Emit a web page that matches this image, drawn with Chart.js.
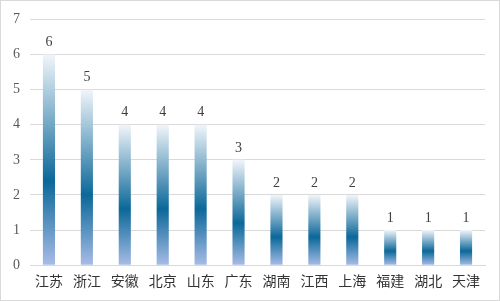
<!DOCTYPE html>
<html>
<head>
<meta charset="utf-8">
<script src="https://cdn.jsdelivr.net/npm/chart.js@4"></script>
<style>
  html, body { margin: 0; padding: 0; background: #fff; }
  #wrap { width: 498px; height: 299px; border: 1px solid #d9d9d9; }
</style>
</head>
<body>
<div id="wrap"><canvas id="chart" width="498" height="299"></canvas></div>
<script>
const provinces = ['江苏', '浙江', '安徽', '北京', '山东', '广东', '湖南', '江西', '上海', '福建', '湖北', '天津'];
const counts = [6, 5, 4, 4, 4, 3, 2, 2, 2, 1, 1, 1];
const yTicks = [0, 1, 2, 3, 4, 5, 6, 7];

// each bar gets its own vertical gradient, light top -> dark blue -> light bottom
function barGradient(context) {
    const chart = context.chart;
    if (!chart.chartArea || context.dataIndex === undefined) return '#2f7fad';
    const y = chart.scales.y;
    const top = y.getPixelForValue(context.raw);
    const bottom = y.getPixelForValue(0);
    if (!isFinite(top) || top === bottom) return '#2f7fad';
    const g = chart.ctx.createLinearGradient(0, top, 0, bottom);
    g.addColorStop(0, '#f1f5fa');
    g.addColorStop(0.6, '#0b6899');
    g.addColorStop(1, '#a7bce6');
    return g;
}

const valueLabels = {
    id: 'valueLabels',
    afterDatasetsDraw(chart) {
        const ctx = chart.ctx;
        const meta = chart.getDatasetMeta(0);
        ctx.save();
        ctx.font = '14px "Liberation Serif", serif';
        ctx.fillStyle = '#404040';
        ctx.textAlign = 'center';
        ctx.textBaseline = 'bottom';
        meta.data.forEach((bar, i) => {
            ctx.fillText(String(counts[i]), bar.x, bar.y - 5);
        });
        ctx.restore();
    }
};

const config = {
    type: 'bar',
    data: {
        labels: provinces,
        datasets: [{
            data: counts,
            backgroundColor: barGradient,
            barPercentage: 0.32,
            categoryPercentage: 1.0,
        }]
    },
    options: {
        responsive: false,
        animation: false,
        layout: { padding: { left: 2, right: 14, top: 3, bottom: 4 } },
        plugins: {
            legend: { display: false },
            tooltip: { enabled: false }
        },
        scales: {
            x: {
                grid: { display: false, drawTicks: false },
                border: { color: '#d9d9d9' },
                ticks: {
                    color: '#333333',
                    padding: 7,
                    font: { family: '"Noto Sans CJK SC", serif', size: 14 }
                }
            },
            y: {
                min: 0,
                max: 7,
                afterBuildTicks: (axis) => { axis.ticks = yTicks.map(v => ({ value: v })); },
                grid: { color: '#d9d9d9', drawTicks: false },
                border: { display: false },
                ticks: {
                    color: '#595959',
                    padding: 10,
                    font: { family: '"Liberation Serif", serif', size: 14 }
                }
            }
        }
    },
    plugins: [valueLabels]
};

const chart = new Chart(document.getElementById('chart'), config);
</script>
</body>
</html>
